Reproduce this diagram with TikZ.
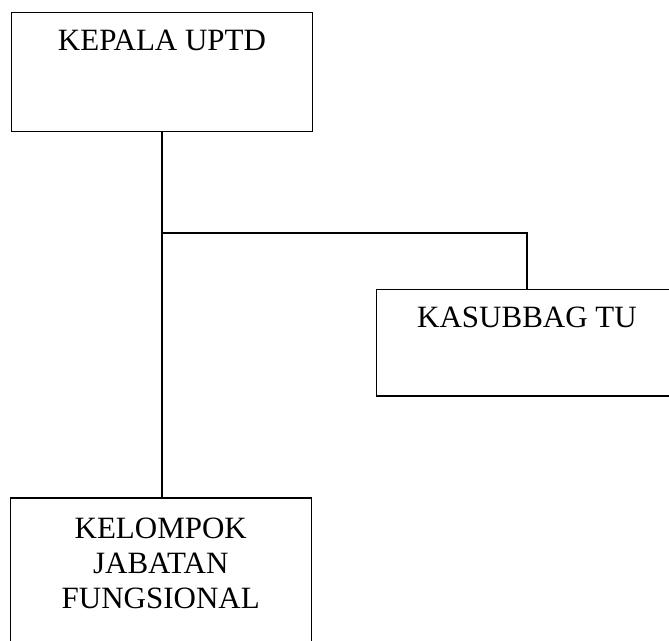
\documentclass[tikz,border=0pt]{standalone}
\usepackage{fontspec}
\setmainfont{Liberation Serif}
\usetikzlibrary{positioning}
\tikzset{
    box/.style={draw, line width=1.4pt, minimum width=301pt, inner sep=0pt},
    lbl/.style={font=\fontsize{31}{35}\selectfont, align=center, inner sep=0pt},
    link/.style={line width=1.4pt}
}
\begin{document}
\begin{tikzpicture}[x=1pt, y=-1pt]
    \clip (0,0) rectangle (669,640);
    % Boxes
    \node[box, minimum height=119pt] (kepala) at (162,72) {};
    \node[box, minimum height=106.5pt] (kasubbag) at (527,342.75) {};
    \node[box, minimum height=162pt] (kelompok) at (160.75,579) {};

    % Texts
    \node[lbl, anchor=base] (kepalatxt) at ([yshift=-39pt]kepala.north) {KEPALA UPTD};
    \node[lbl, anchor=base] (kasubbagtxt) at ([yshift=-39pt]kasubbag.north) {KASUBBAG TU};
    \node[lbl, anchor=north] (kelompoktxt) at ([yshift=-20pt]kelompok.north) {KELOMPOK\\JABATAN\\FUNGSIONAL};

    % Lines
    \coordinate (branch) at (162,233);
    \draw[link] (kepala.south) -- (kelompok.north -| kepala.south);
    \draw[link] (branch) -| (kasubbag.north);
\end{tikzpicture}
\end{document}
